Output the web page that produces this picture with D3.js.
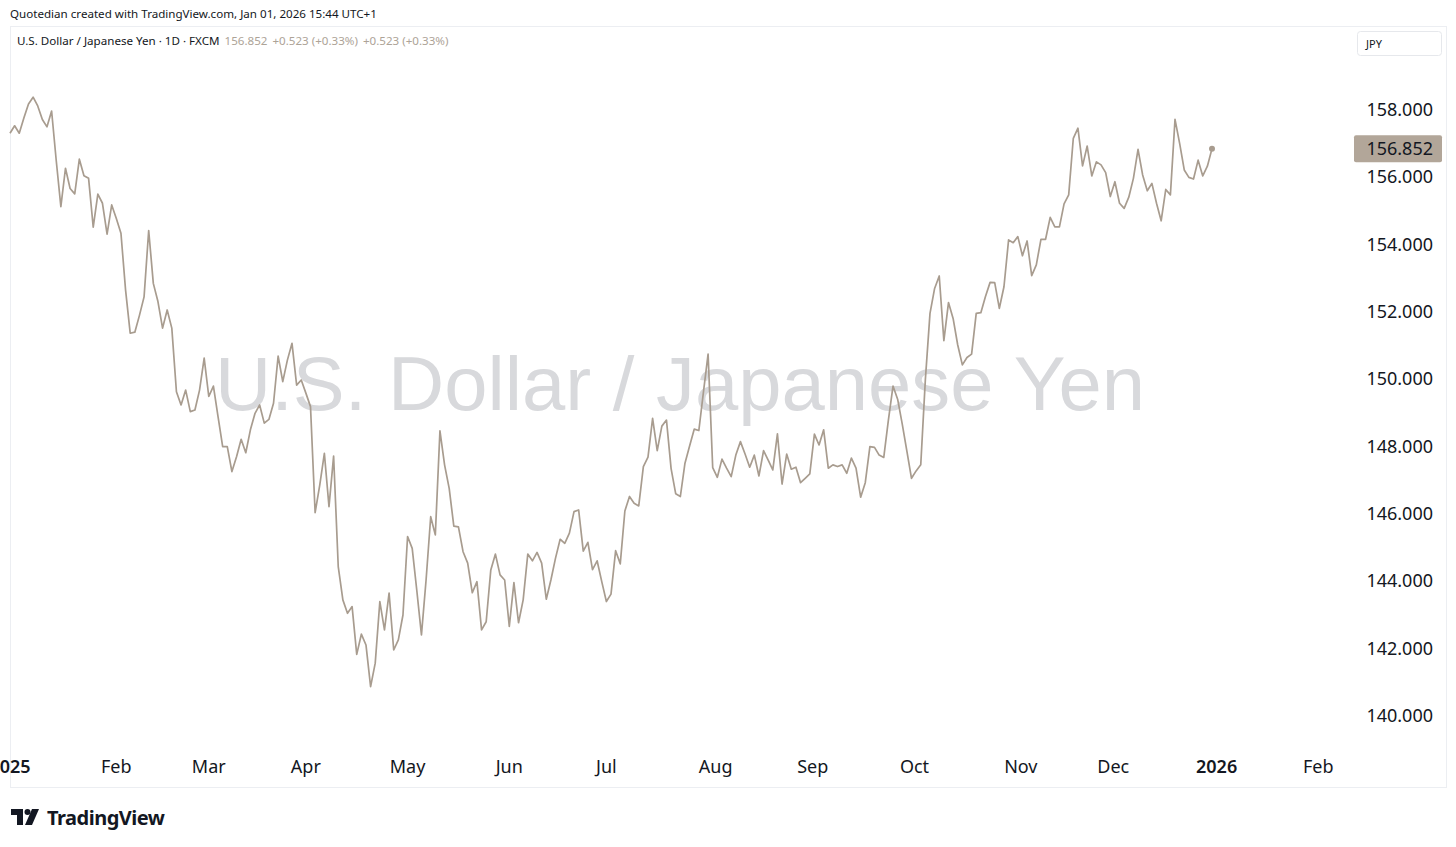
<!DOCTYPE html>
<html>
<head>
<meta charset="utf-8">
<script src="https://cdn.jsdelivr.net/npm/d3@7"></script>
<style>
  body { margin: 0; background: #fff; }
  svg { display: block; font-family: "Noto Sans", "Open Sans", sans-serif; }
</style>
</head>
<body>
<svg id="chart" width="1456" height="847"></svg>
<script>
// Daily closes, USD/JPY 2025 (one value per weekday, FXCM)
const jan25 = [157.31, 157.53, 157.31, 157.76, 158.18, 158.38, 158.12, 157.72, 157.50, 157.97, 156.50, 155.13, 156.27, 155.67, 155.51, 156.54, 156.05, 155.97, 154.52, 155.50, 155.23, 154.31, 155.18];
const feb25 = [154.78, 154.34, 152.65, 151.37, 151.40, 151.90, 152.45, 154.42, 152.85, 152.31, 151.52, 152.06, 151.52, 149.63, 149.24, 149.68, 149.04, 149.09, 149.68, 150.63];
const mar25 = [149.49, 149.80, 148.89, 148.00, 148.00, 147.26, 147.70, 148.22, 147.82, 148.50, 148.99, 149.24, 148.70, 148.81, 149.29, 150.69, 149.93, 150.57, 151.07, 149.83, 149.98];
const apr25 = [149.59, 149.19, 146.04, 146.86, 147.80, 146.22, 147.72, 144.44, 143.45, 143.05, 143.25, 141.83, 142.43, 142.11, 140.87, 141.57, 143.40, 142.56, 143.65, 141.96, 142.26, 143.00];
const may25 = [145.33, 144.98, 143.72, 142.41, 144.04, 145.92, 145.38, 148.47, 147.46, 146.76, 145.64, 145.62, 144.88, 144.54, 143.66, 143.99, 142.56, 142.80, 144.34, 144.81, 144.19, 144.04];
const jun25 = [142.66, 143.96, 142.77, 143.45, 144.81, 144.61, 144.86, 144.54, 143.47, 144.04, 144.69, 145.25, 145.13, 145.43, 146.07, 146.12, 144.90, 145.16, 144.35, 144.61, 143.99];
const jul25 = [143.40, 143.62, 144.91, 144.52, 146.09, 146.52, 146.32, 146.24, 147.41, 147.69, 148.84, 147.88, 148.61, 148.79, 147.35, 146.60, 146.52, 147.51, 148.02, 148.52, 148.48, 149.63, 150.75];
const aug25 = [147.38, 147.09, 147.63, 147.36, 147.11, 147.75, 148.15, 147.78, 147.39, 147.75, 147.13, 147.88, 147.60, 147.31, 148.38, 146.89, 147.78, 147.33, 147.39, 146.93, 147.06];
const sep25 = [147.19, 148.37, 148.05, 148.50, 147.36, 147.46, 147.41, 147.46, 147.21, 147.66, 147.36, 146.50, 146.93, 148.00, 147.98, 147.75, 147.68, 148.79, 149.80, 149.41, 148.67, 147.87];
const oct25 = [147.06, 147.28, 147.46, 150.00, 151.96, 152.70, 153.07, 151.15, 152.28, 151.81, 151.02, 150.43, 150.65, 150.75, 151.96, 151.98, 152.46, 152.88, 152.87, 152.11, 152.75, 154.14, 154.06];
const nov25 = [154.24, 153.67, 154.11, 153.08, 153.40, 154.16, 154.16, 154.81, 154.53, 154.53, 155.21, 155.48, 157.16, 157.46, 156.34, 156.93, 156.04, 156.46, 156.37, 156.14];
const dec25 = [155.43, 155.87, 155.23, 155.08, 155.41, 155.97, 156.83, 156.07, 155.60, 155.82, 155.23, 154.71, 155.64, 155.48, 157.72, 157.01, 156.22, 156.00, 155.95, 156.51, 156.04, 156.33, 156.852];

const months = [jan25, feb25, mar25, apr25, may25, jun25, jul25, aug25, sep25, oct25, nov25, dec25];
const jan26TradingDays = 22;

const monthLabels = ['2025', 'Feb', 'Mar', 'Apr', 'May', 'Jun', 'Jul', 'Aug', 'Sep', 'Oct', 'Nov', 'Dec', '2026', 'Feb'];
const priceTicks = [140, 142, 144, 146, 148, 150, 152, 154, 156, 158];

const closes = months.flat();
const last = closes[closes.length - 1];

// bar index of the first trading day of each month
const tickIdx = [0];
months.forEach(m => tickIdx.push(tickIdx[tickIdx.length - 1] + m.length));
tickIdx.push(tickIdx[tickIdx.length - 1] + jan26TradingDays);

const lineColor = '#a89c8f';
const svg = d3.select('#chart');

const x = d3.scaleLinear().domain([0, closes.length - 1]).range([10, 1212]);
const y = d3.scaleLinear().domain([140, 158]).range([716, 110]);

// frame
svg.append('rect')
    .attr('x', 10.5).attr('y', 26.5)
    .attr('width', 1436).attr('height', 761)
    .attr('fill', 'none')
    .attr('stroke', '#eceef2');

// header
svg.append('text')
    .attr('x', 10).attr('y', 18)
    .attr('font-size', 11.6).attr('fill', '#131722')
    .text('Quotedian created with TradingView.com, Jan 01, 2026 15:44 UTC+1');

const head = svg.append('text')
    .attr('x', 17).attr('y', 45)
    .attr('font-size', 11.6);
head.append('tspan').attr('fill', '#131722').text('U.S. Dollar / Japanese Yen · 1D · FXCM');
head.append('tspan').attr('fill', '#ada397').attr('dx', 5).text('156.852');
head.append('tspan').attr('fill', '#ada397').attr('dx', 5).text('+0.523 (+0.33%)');
head.append('tspan').attr('fill', '#ada397').attr('dx', 5).text('+0.523 (+0.33%)');

// watermark
svg.append('text')
    .attr('x', 680).attr('y', 410)
    .attr('text-anchor', 'middle')
    .attr('font-family', '"Liberation Sans", Arial, sans-serif')
    .attr('font-size', 76)
    .attr('textLength', 930)
    .attr('lengthAdjust', 'spacingAndGlyphs')
    .attr('fill', '#d8d9dc')
    .text('U.S. Dollar / Japanese Yen');

// currency box
svg.append('rect')
    .attr('x', 1357.5).attr('y', 31.5)
    .attr('width', 84).attr('height', 24).attr('rx', 3)
    .attr('fill', '#fff').attr('stroke', '#e6e8ec');
svg.append('text')
    .attr('x', 1366).attr('y', 47.5)
    .attr('font-size', 11).attr('fill', '#131722')
    .text('JPY');

// price axis
svg.append('g')
    .selectAll('text')
    .data(priceTicks)
    .join('text')
    .attr('x', 1433).attr('y', d => y(d) + 6)
    .attr('text-anchor', 'end')
    .attr('font-size', 18).attr('fill', '#131722')
    .text(d => d3.format('.3f')(d));

// time axis
svg.append('g')
    .selectAll('text')
    .data(monthLabels)
    .join('text')
    .attr('x', (d, i) => x(tickIdx[i]) + (i > 6 && i < 12 ? 3 : 0))
    .attr('y', 773)
    .attr('text-anchor', 'middle')
    .attr('font-size', 18)
    .attr('font-weight', d => /^\d+$/.test(d) ? 600 : 400)
    .attr('fill', '#131722')
    .text(d => d);

// price line
const line = d3.line()
    .x((d, i) => x(i))
    .y(d => y(d));

svg.append('path')
    .datum(closes)
    .attr('d', line)
    .attr('fill', 'none')
    .attr('stroke', lineColor)
    .attr('stroke-width', 1.7)
    .attr('stroke-linejoin', 'round');

svg.append('circle')
    .attr('cx', x(closes.length - 1)).attr('cy', y(last))
    .attr('r', 3)
    .attr('fill', lineColor);

// last price label
svg.append('rect')
    .attr('x', 1354).attr('y', y(last) - 13.5)
    .attr('width', 88).attr('height', 27).attr('rx', 2)
    .attr('fill', '#b2a699');
svg.append('text')
    .attr('x', 1433).attr('y', y(last) + 6)
    .attr('text-anchor', 'end')
    .attr('font-size', 18).attr('fill', '#131722')
    .text(d3.format('.3f')(last));

// TradingView logo
const logo = svg.append('g').attr('transform', 'translate(11,809)').attr('fill', '#131722');
logo.append('path').attr('d', 'M0 0 H12 V16 H6 V6 H0 Z');
logo.append('circle').attr('cx', 16.5).attr('cy', 3).attr('r', 3);
logo.append('path').attr('d', 'M21 0 H28 L21 16 H14 Z');
svg.append('text')
    .attr('x', 47).attr('y', 825)
    .attr('font-size', 20).attr('font-weight', 700)
    .attr('letter-spacing', -0.5)
    .attr('fill', '#131722')
    .text('TradingView');
</script>
</body>
</html>
